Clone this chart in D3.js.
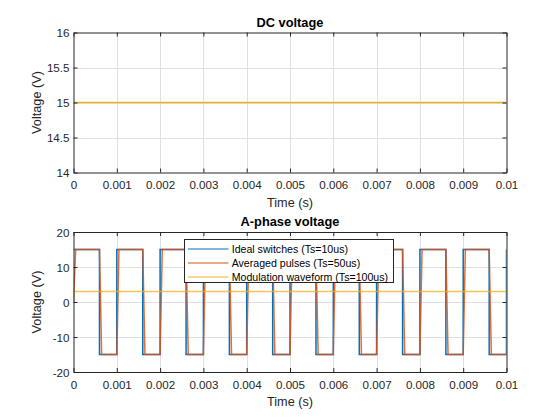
<!DOCTYPE html>
<html>
<head>
  <meta charset="utf-8">
  <script src="https://cdnjs.cloudflare.com/ajax/libs/d3/7.8.5/d3.min.js"></script>
  <style>
    body { margin: 0; background: #fff; }
    svg, svg text { font-family: "Liberation Sans", Arial, Helvetica, sans-serif; }
  </style>
</head>
<body>
  <svg></svg>
  <script>
    // tick labels
    var timeTicks = [0, 0.001, 0.002, 0.003, 0.004, 0.005, 0.006, 0.007, 0.008, 0.009, 0.01];
    var dcTicks = [14, 14.5, 15, 15.5, 16];
    var phaseTicks = [-20, -10, 0, 10, 20];

    // DC voltage series
    var dcTime = [0, 0.01];
    var dcValues = [15, 15];

    // A-phase: switching instants
    var highLevel = 15, lowLevel = -15;
    var idealRise = [0, 0.001, 0.002, 0.003, 0.004, 0.005, 0.006, 0.007, 0.008, 0.009, 0.01];
    var idealFall = [0.0006, 0.0016, 0.0026, 0.0036, 0.0046, 0.0056, 0.0066, 0.0076, 0.0086, 0.0096];
    // averaged pulses lag by one 50us sample and ramp over it
    var avgStep = 0.00005;
    var avgRise = [0, 0.001, 0.002, 0.003, 0.004, 0.005, 0.006, 0.007, 0.008, 0.009];
    var avgFall = [0.0006, 0.0016, 0.0026, 0.0036, 0.0046, 0.0056, 0.0066, 0.0076, 0.0086, 0.0096];

    // modulation waveform
    var modTime = [0, 0.01];
    var modValues = [3, 3];

    var legendNames = ["Ideal switches (Ts=10us)", "Averaged pulses (Ts=50us)", "Modulation waveform (Ts=100us)"];
    var colors = ["#0072BD", "#D95319", "#EDB120"];

    var W = 560, H = 420;
    var svg = d3.select("svg").attr("width", W).attr("height", H);
    svg.append("rect").attr("width", W).attr("height", H).attr("fill", "#fff");

    var left = 73.5, right = 506.5;
    var x = d3.scaleLinear().domain([0, 0.01]).range([left, right]);
    var font = "Liberation Sans, Arial, sans-serif";

    // build the step points of each waveform
    function idealPoints() {
      var ev = [];
      idealRise.forEach(function(t) { ev.push({ t: t, from: lowLevel, to: highLevel }); });
      idealFall.forEach(function(t) { ev.push({ t: t, from: highLevel, to: lowLevel }); });
      ev.sort(function(a, b) { return a.t - b.t; });
      var pts = [];
      ev.forEach(function(e, i) {
        if (i > 0) pts.push([e.t, e.from]);
        pts.push([e.t, e.to]);
      });
      return pts;
    }
    function avgPoints() {
      var ev = [];
      avgRise.forEach(function(t, i) { ev.push({ t: t, from: i === 0 ? 0 : lowLevel, to: highLevel }); });
      avgFall.forEach(function(t) { ev.push({ t: t, from: highLevel, to: lowLevel }); });
      ev.sort(function(a, b) { return a.t - b.t; });
      var pts = [];
      ev.forEach(function(e) {
        pts.push([e.t, e.from]);
        pts.push([e.t + avgStep, e.to]);
      });
      pts.push([0.01, lowLevel]);
      return pts;
    }

    function drawAxes(top, bottom, yDomain, yTicks, title, id) {
      var y = d3.scaleLinear().domain(yDomain).range([bottom, top]);
      var g = svg.append("g");

      g.append("clipPath").attr("id", id).append("rect")
        .attr("x", left).attr("y", top).attr("width", right - left).attr("height", bottom - top);

      // grid
      g.selectAll(".vg").data(timeTicks.slice(1, -1)).enter().append("line")
        .attr("x1", function(d) { return Math.round(x(d)) + 0.5; })
        .attr("x2", function(d) { return Math.round(x(d)) + 0.5; })
        .attr("y1", top).attr("y2", bottom)
        .attr("stroke", "#e0e0e0").attr("stroke-width", 1);
      g.selectAll(".hg").data(yTicks.slice(1, -1)).enter().append("line")
        .attr("y1", function(d) { return Math.round(y(d)) + 0.5; })
        .attr("y2", function(d) { return Math.round(y(d)) + 0.5; })
        .attr("x1", left).attr("x2", right)
        .attr("stroke", "#e0e0e0").attr("stroke-width", 1);

      // box with inward ticks
      var axB = d3.axisBottom(x).tickValues(timeTicks).tickSizeInner(-4).tickSizeOuter(0)
        .tickFormat(function(d) { return String(+d.toFixed(3)); });
      var axT = d3.axisTop(x).tickValues(timeTicks).tickSizeInner(-4).tickSizeOuter(0).tickFormat("");
      var axL = d3.axisLeft(y).tickValues(yTicks).tickSizeInner(-4).tickSizeOuter(0)
        .tickFormat(function(d) { return String(d); });
      var axR = d3.axisRight(y).tickValues(yTicks).tickSizeInner(-4).tickSizeOuter(0).tickFormat("");

      var plot = g.append("g").attr("clip-path", "url(#" + id + ")");

      var axes = [
        g.append("g").attr("transform", "translate(0," + bottom + ")").call(axB),
        g.append("g").attr("transform", "translate(0," + top + ")").call(axT),
        g.append("g").attr("transform", "translate(" + left + ",0)").call(axL),
        g.append("g").attr("transform", "translate(" + right + ",0)").call(axR)
      ];
      axes.forEach(function(a) {
        a.attr("font-family", font).attr("font-size", 11.6);
        a.select(".domain").attr("stroke", "#262626").attr("stroke-width", 1);
        a.selectAll(".tick line").attr("stroke", "#262626");
        a.selectAll(".tick text").attr("fill", "#262626");
      });
      axes[0].selectAll(".tick text").attr("dy", null).attr("y", 16.5);
      axes[2].selectAll(".tick text").attr("x", -4).attr("dy", "0.36em");

      g.append("text").attr("x", (left + right) / 2).attr("y", bottom + 34.3)
        .attr("text-anchor", "middle").attr("font-size", 12.7).attr("fill", "#262626")
        .attr("font-family", font).text("Time (s)");
      g.append("text").attr("transform", "translate(41.3," + (top + bottom) / 2 + ") rotate(-90)")
        .attr("text-anchor", "middle").attr("font-size", 12.7).attr("fill", "#262626")
        .attr("font-family", font).text("Voltage (V)");
      g.append("text").attr("x", (left + right) / 2).attr("y", top - 5.6)
        .attr("text-anchor", "middle").attr("font-size", 12.8).attr("font-weight", "bold")
        .attr("font-family", font).attr("fill", "#000").text(title);

      return { y: y, plot: plot, g: g };
    }

    // top: DC voltage
    var a1 = drawAxes(32.5, 172.5, [14, 16], dcTicks, "DC voltage", "clip1");
    var line1 = d3.line().x(function(d) { return x(d[0]); }).y(function(d) { return a1.y(d[1]); });
    a1.plot.append("path").datum(dcTime.map(function(t, i) { return [t, dcValues[i]]; }))
      .attr("d", line1).attr("fill", "none").attr("stroke", colors[2]).attr("stroke-width", 1.6);

    // bottom: A-phase voltage
    var a2 = drawAxes(232, 372, [-20, 20], phaseTicks, "A-phase voltage", "clip2");
    var line2 = d3.line().x(function(d) { return x(d[0]); }).y(function(d) { return a2.y(d[1]); });
    var series = [idealPoints(), avgPoints(), modTime.map(function(t, i) { return [t, modValues[i]]; })];
    var widths = [1.5, 1.5, 1.6];
    var opac = [1, 0.85, 0.75];
    series.forEach(function(s, i) {
      a2.plot.append("path").datum(s).attr("d", line2).attr("fill", "none")
        .attr("stroke", colors[i]).attr("stroke-width", widths[i]).attr("stroke-opacity", opac[i])
        .attr("stroke-linejoin", "miter");
    });

    // legend
    var lg = a2.g.append("g").attr("transform", "translate(184.5,239.5)");
    lg.append("rect").attr("width", 209).attr("height", 43).attr("fill", "#fff")
      .attr("stroke", "#262626").attr("stroke-width", 1);
    legendNames.forEach(function(name, i) {
      var yy = 9.5 + i * 14;
      lg.append("line").attr("x1", 3.5).attr("x2", 44).attr("y1", yy).attr("y2", yy)
        .attr("stroke", colors[i]).attr("stroke-width", 1.2);
      lg.append("text").attr("x", 47.2).attr("y", yy + 3.9).attr("font-size", 10.6)
        .attr("font-family", font).attr("fill", "#000").text(name);
    });
  </script>
</body>
</html>
